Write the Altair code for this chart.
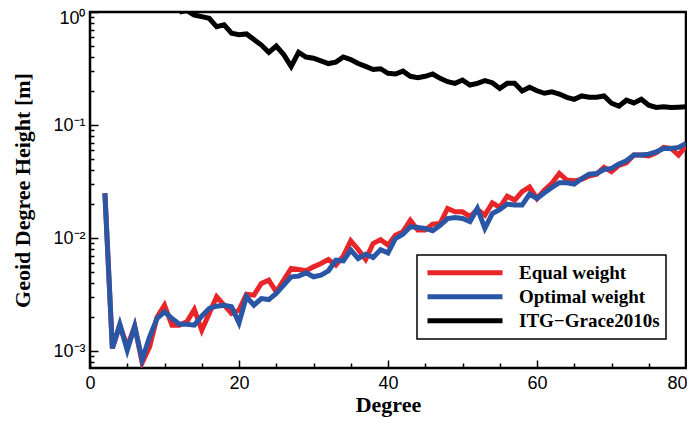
import altair as alt
import pandas as pd

degrees = list(range(2, 81))

equal_weight = [
    0.025, 0.00106, 0.0017, 0.0011, 0.00166, 0.00079, 0.00109, 0.0020, 0.00255, 0.0017,
    0.0017, 0.00182, 0.00234, 0.00153, 0.00216, 0.00303, 0.00255, 0.00216, 0.00231, 0.00319,
    0.00313, 0.00397, 0.00425, 0.00335, 0.00425, 0.0054, 0.00528, 0.00514, 0.00557, 0.00597,
    0.00648, 0.00577, 0.00693, 0.00946, 0.00794, 0.00648, 0.00897, 0.0097, 0.0087, 0.0106,
    0.0114, 0.0144, 0.0118, 0.0118, 0.0133, 0.0135, 0.0183, 0.0171, 0.0171, 0.0155,
    0.0179, 0.016, 0.0205, 0.0187, 0.0235, 0.0217, 0.0257, 0.0284, 0.0224, 0.0266,
    0.0305, 0.0373, 0.0326, 0.0321, 0.0331, 0.0354, 0.0368, 0.0422, 0.0386, 0.044,
    0.0464, 0.0543, 0.0543, 0.0532, 0.0567, 0.0636, 0.0622, 0.0543, 0.0652,
]

optimal_weight = [
    0.0249, 0.00106, 0.00173, 0.00102, 0.00166, 0.00084, 0.00134, 0.00195, 0.00223, 0.00195,
    0.00173, 0.00173, 0.0017, 0.00204, 0.00239, 0.0025, 0.00255, 0.00247, 0.00178, 0.00303,
    0.00255, 0.00292, 0.00286, 0.00324, 0.00384, 0.00455, 0.00461, 0.00493, 0.00455, 0.00471,
    0.00514, 0.00638, 0.0063, 0.00783, 0.0066, 0.00721, 0.00675, 0.0079, 0.0074, 0.00993,
    0.0108, 0.0126, 0.0124, 0.0122, 0.0116, 0.013, 0.0149, 0.0152, 0.0149, 0.014,
    0.0183, 0.0122, 0.0165, 0.0179, 0.02, 0.0196, 0.0196, 0.0245, 0.0224, 0.0252,
    0.0281, 0.0309, 0.0309, 0.0301, 0.0337, 0.0368, 0.0373, 0.0405, 0.0414, 0.0452,
    0.0483, 0.0543, 0.0543, 0.0553, 0.058, 0.0622, 0.0622, 0.0635, 0.0689,
]

itg_degrees = list(range(12, 81))
itg_grace = [
    1.0, 1.03, 0.94, 0.91, 0.88, 0.74, 0.77, 0.65, 0.63, 0.64,
    0.57, 0.51, 0.44, 0.50, 0.42, 0.33, 0.44, 0.40, 0.39, 0.37,
    0.35, 0.36, 0.40, 0.38, 0.35, 0.33, 0.31, 0.315, 0.287, 0.283,
    0.30, 0.27, 0.262, 0.27, 0.283, 0.259, 0.242, 0.234, 0.25, 0.226,
    0.234, 0.247, 0.237, 0.211, 0.234, 0.234, 0.20, 0.216, 0.201, 0.191,
    0.197, 0.188, 0.176, 0.169, 0.181, 0.176, 0.176, 0.181, 0.156, 0.147,
    0.166, 0.157, 0.169, 0.150, 0.143, 0.145, 0.143, 0.144, 0.145,
]

series_names = ["Equal weight", "Optimal weight", "ITG\u2212Grace2010s"]
series_colors = ["#e8262a", "#2a56a6", "#000000"]

Y_MIN = 0.00071
x_major = [0, 20, 40, 60, 80]
x_minor = [5, 10, 15, 25, 30, 35, 45, 50, 55, 65, 70, 75]
y_major = [0.001, 0.01, 0.1, 1.0]
y_minor = [m * 10.0 ** k for k in (-4, -3, -2, -1) for m in range(2, 10)]
y_minor = [v for v in y_minor if Y_MIN <= v <= 1.0]

df_eq = pd.DataFrame({"degree": degrees, "value": equal_weight, "series": series_names[0]})
df_op = pd.DataFrame({"degree": degrees, "value": optimal_weight, "series": series_names[1]})
df_itg = pd.DataFrame({"degree": itg_degrees, "value": itg_grace, "series": series_names[2]})

x_scale = alt.Scale(domain=[0, 80], nice=False, zero=False)
y_scale = alt.Scale(type="log", domain=[Y_MIN, 1.0], nice=False)
color_scale = alt.Scale(domain=series_names, range=series_colors)

LABEL_FONT = "Liberation Sans"
TITLE_FONT = "Liberation Serif"

legend = alt.Legend(
    title=None,
    orient="none",
    legendX=327,
    legendY=243,
    symbolType="stroke",
    symbolSize=5625,
    symbolStrokeWidth=5,
    clipHeight=23.5,
    rowPadding=0,
    symbolOffset=2,
    labelOffset=14,
    labelFont=TITLE_FONT,
    labelFontWeight="bold",
    labelFontSize=19,
    labelColor="black",
    padding=6,
    strokeColor="black",
    fillColor="white",
)

ylabel_expr = (
    "datum.value >= 0.5 ? '10\u2070' : datum.value >= 0.05 ? '10\u207b\u00b9' : "
    "datum.value >= 0.005 ? '10\u207b\u00b2' : '10\u207b\u00b3'"
)

x_axis_major = alt.Axis(
    values=x_major, orient="bottom", offset=-8, tickSize=8, tickWidth=1.5, tickColor="black",
    domain=False, grid=False, labelFont=LABEL_FONT, labelFontSize=18, labelColor="black",
    labelPadding=6, title="Degree", titleFont=TITLE_FONT, titleFontSize=22,
    titleFontWeight="bold", titleColor="black", titlePadding=2, labelFlush=False,
    labelOffset={"condition": {"test": "datum.value >= 79", "value": -9}, "value": 0},
)
y_axis_major = alt.Axis(
    values=y_major, orient="left", offset=-8, tickSize=8, tickWidth=1.5, tickColor="black",
    domain=False, grid=False, labelFont=LABEL_FONT, labelFontSize=18, labelColor="black",
    labelPadding=5, labelExpr=ylabel_expr, title="Geoid Degree Height [m]",
    titleFont=TITLE_FONT, titleFontSize=22, titleFontWeight="bold", titleColor="black",
    titlePadding=18,
    labelOffset={"condition": {"test": "datum.value >= 0.5", "value": 6}, "value": 0},
)
x_axis_minor = alt.Axis(
    values=x_minor, orient="bottom", offset=-5, tickSize=5, tickWidth=1.5, tickColor="black",
    domain=False, grid=False, labels=False, title=None,
)
y_axis_minor = alt.Axis(
    values=y_minor, orient="left", offset=-4, tickSize=4, tickWidth=1.5, tickColor="black",
    domain=False, grid=False, labels=False, title=None,
)

red = alt.Chart(df_eq).mark_line(strokeWidth=5, clip=True).encode(
    x=alt.X("degree:Q", scale=x_scale, axis=x_axis_major),
    y=alt.Y("value:Q", scale=y_scale, axis=y_axis_major),
    color=alt.Color("series:N", scale=color_scale, legend=legend),
)
blue = alt.Chart(df_op).mark_line(strokeWidth=5, clip=True).encode(
    x=alt.X("degree:Q", scale=x_scale, axis=x_axis_minor),
    y=alt.Y("value:Q", scale=y_scale, axis=y_axis_minor),
    color=alt.Color("series:N", scale=color_scale, legend=legend),
)
black = alt.Chart(df_itg).mark_line(strokeWidth=5, clip=True).encode(
    x=alt.X("degree:Q", scale=x_scale, axis=None),
    y=alt.Y("value:Q", scale=y_scale, axis=None),
    color=alt.Color("series:N", scale=color_scale, legend=legend),
)

chart = (
    alt.layer(red, blue, black)
    .resolve_axis(x="independent", y="independent")
    .properties(
        width=596,
        height=356,
        autosize=alt.AutoSizeParams(type="none"),
        padding={"left": 82, "top": 4, "right": 1, "bottom": 52},
        background="white",
    )
    .configure_view(stroke="black", strokeWidth=2.5)
    .configure_legend(strokeWidth=1.5)
)

chart.save("out.html", embed_options={"renderer": "svg", "actions": False})
